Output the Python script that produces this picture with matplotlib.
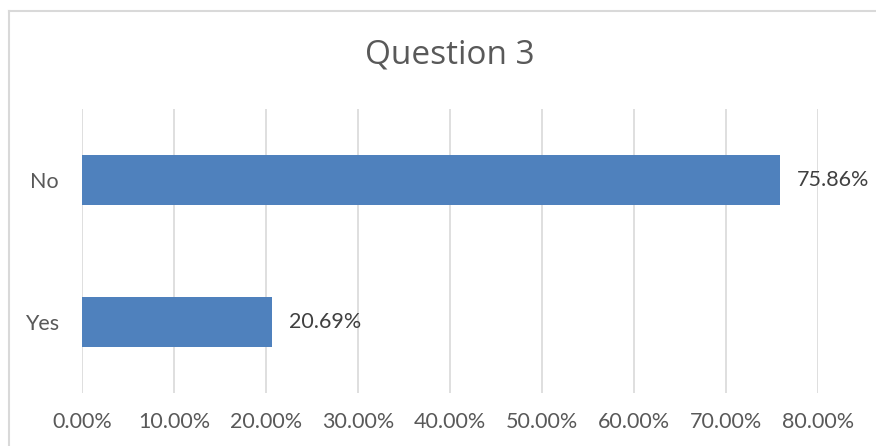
import matplotlib
matplotlib.use("Agg")
import matplotlib.pyplot as plt
from matplotlib.lines import Line2D
from matplotlib.ticker import FuncFormatter, MultipleLocator

categories = ["Yes", "No"]
values = [20.69, 75.86]
title = "Question 3"

W, H = 876, 446
fig = plt.figure(figsize=(W / 100, H / 100), dpi=100)
fig.patch.set_facecolor("white")

# outer chart frame (left and top edges visible)
frame_col = "#D9D9D9"
fig.add_artist(Line2D([9 / W, 9 / W], [0, 1 - 11 / H], transform=fig.transFigure, color=frame_col, lw=1.5))
fig.add_artist(Line2D([9 / W, 1], [1 - 11 / H, 1 - 11 / H], transform=fig.transFigure, color=frame_col, lw=1.5))

left, right, top, bottom = 82, 818, 109, 393
ax = fig.add_axes([left / W, (H - bottom) / H, (right - left) / W, (bottom - top) / H])

font = "Lato"
txt = "#595959"
fs = 15.5

ax.barh(range(len(categories)), values, height=0.35, color="#4F81BD", zorder=3)
ax.set_xlim(0, 80)
ax.set_ylim(-0.5, 1.5)
ax.xaxis.set_major_locator(MultipleLocator(10))
ax.xaxis.set_major_formatter(FuncFormatter(lambda v, p: f"{v:.2f}%"))
ax.set_yticks(range(len(categories)))
ax.set_yticklabels(categories)
ax.grid(axis="x", color="#D9D9D9", lw=1.2, zorder=0)
for s in ax.spines.values():
    s.set_visible(False)
ax.tick_params(axis="both", length=0, colors=txt, labelsize=fs)
ax.tick_params(axis="x", pad=14)
ax.tick_params(axis="y", pad=16.5)
for lab in ax.get_xticklabels() + ax.get_yticklabels():
    lab.set_fontfamily(font)

for i, v in enumerate(values):
    ax.annotate(f"{v:.2f}%", (v, i), xytext=(12, 0), textcoords="offset points",
                va="center", ha="left", fontsize=fs, color="#404040", family=font)

fig.text(450 / W, 1 - 55 / H, title, ha="center", va="center", fontsize=24, color=txt, family="Open Sans")

fig.savefig("out.png", dpi=100)
